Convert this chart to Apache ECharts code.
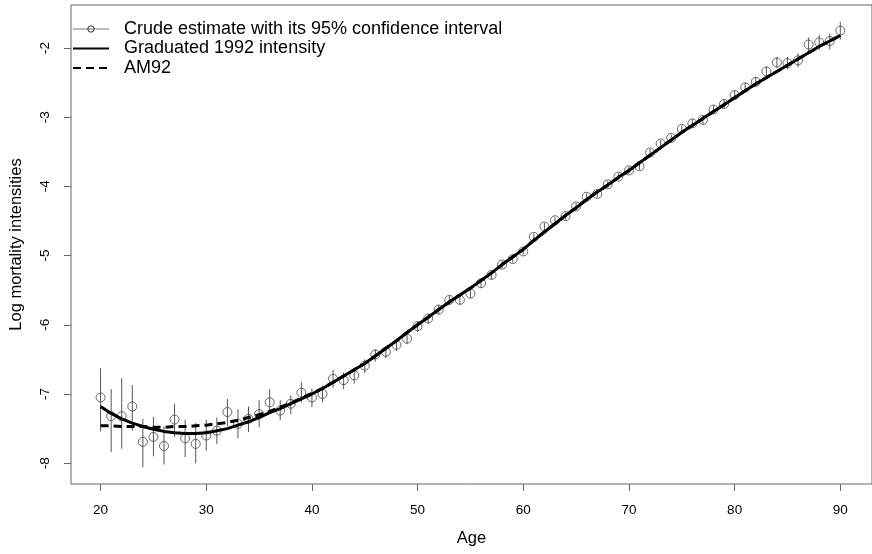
<!DOCTYPE html>
<html style="height: 100%">
<head>
<meta charset="utf-8">
</head>
<body style="height: 100%; margin: 0; background: #fff">
<div id="container" style="width: 872px; height: 554px"></div>
<script type="text/javascript" src="https://cdn.jsdelivr.net/npm/echarts@6/dist/echarts.min.js"></script>
<script type="text/javascript">
// ages 20..90
var ages = [20,21,22,23,24,25,26,27,28,29,30,31,32,33,34,35,36,37,38,39,40,
            41,42,43,44,45,46,47,48,49,50,51,52,53,54,55,56,57,58,59,60,
            61,62,63,64,65,66,67,68,69,70,71,72,73,74,75,76,77,78,79,80,
            81,82,83,84,85,86,87,88,89,90];
// crude log intensities
var crude = [-7.05,-7.32,-7.32,-7.18,-7.69,-7.62,-7.75,-7.37,-7.64,-7.72,-7.60,
             -7.53,-7.26,-7.43,-7.36,-7.29,-7.12,-7.24,-7.14,-6.98,-7.05,
             -7.00,-6.78,-6.80,-6.73,-6.59,-6.43,-6.39,-6.29,-6.20,-6.02,
             -5.91,-5.78,-5.64,-5.64,-5.55,-5.40,-5.28,-5.13,-5.05,-4.94,
             -4.73,-4.58,-4.49,-4.43,-4.29,-4.15,-4.11,-3.97,-3.86,-3.77,
             -3.71,-3.51,-3.38,-3.30,-3.17,-3.09,-3.04,-2.89,-2.81,-2.68,
             -2.57,-2.49,-2.34,-2.21,-2.22,-2.18,-1.95,-1.92,-1.90,-1.75];
// 95% confidence interval (log scale)
var lower = [-7.54,-7.84,-7.79,-7.53,-8.06,-7.90,-8.02,-7.62,-7.91,-8.00,-7.82,
             -7.72,-7.46,-7.64,-7.55,-7.48,-7.29,-7.38,-7.29,-7.12,-7.19,
             -7.12,-6.91,-6.93,-6.85,-6.70,-6.53,-6.48,-6.38,-6.28,-6.10,
             -5.98,-5.85,-5.71,-5.70,-5.61,-5.46,-5.34,-5.18,-5.10,-4.99,
             -4.78,-4.63,-4.54,-4.48,-4.34,-4.20,-4.16,-4.02,-3.91,-3.82,
             -3.76,-3.56,-3.43,-3.35,-3.22,-3.15,-3.10,-2.95,-2.87,-2.74,
             -2.64,-2.56,-2.41,-2.29,-2.31,-2.28,-2.06,-2.03,-2.02,-1.88];
var upper = [-6.63,-6.93,-6.77,-6.87,-7.36,-7.33,-7.47,-7.14,-7.37,-7.42,-7.37,
             -7.34,-7.07,-7.22,-7.18,-7.09,-6.93,-7.09,-7.02,-6.83,-6.92,
             -6.88,-6.65,-6.69,-6.63,-6.50,-6.35,-6.31,-6.21,-6.12,-5.95,
             -5.84,-5.71,-5.58,-5.58,-5.49,-5.34,-5.23,-5.08,-5.00,-4.89,
             -4.68,-4.53,-4.44,-4.38,-4.24,-4.10,-4.06,-3.92,-3.81,-3.72,
             -3.66,-3.46,-3.33,-3.25,-3.12,-3.03,-2.98,-2.83,-2.75,-2.62,
             -2.50,-2.42,-2.27,-2.13,-2.13,-2.08,-1.85,-1.81,-1.79,-1.62];
// graduated 1992 intensity
var graduated = [-7.18,-7.28,-7.36,-7.42,-7.47,-7.51,-7.54,-7.56,-7.57,-7.57,-7.56,
                 -7.53,-7.50,-7.45,-7.40,-7.34,-7.27,-7.21,-7.14,-7.07,-7.00,
                 -6.92,-6.83,-6.74,-6.65,-6.56,-6.45,-6.34,-6.23,-6.11,-6.00,
                 -5.89,-5.78,-5.67,-5.57,-5.47,-5.36,-5.25,-5.13,-5.02,-4.91,
                 -4.78,-4.66,-4.54,-4.42,-4.31,-4.19,-4.08,-3.98,-3.87,-3.77,
                 -3.66,-3.55,-3.44,-3.33,-3.22,-3.12,-3.02,-2.92,-2.82,-2.72,
                 -2.62,-2.52,-2.43,-2.34,-2.25,-2.16,-2.07,-1.98,-1.90,-1.82];
// AM92 table
var am92 = [-7.46,-7.46,-7.47,-7.47,-7.47,-7.48,-7.48,-7.47,-7.47,-7.46,-7.45,
            -7.43,-7.41,-7.38,-7.34,-7.30,-7.25,-7.19,-7.13,-7.06,-6.99,
            -6.92,-6.83,-6.74,-6.65,-6.56,-6.45,-6.34,-6.23,-6.11,-6.00,
            -5.89,-5.78,-5.67,-5.57,-5.47,-5.36,-5.25,-5.13,-5.02,-4.91,
            -4.78,-4.66,-4.54,-4.42,-4.31,-4.19,-4.08,-3.98,-3.87,-3.77,
            -3.66,-3.55,-3.44,-3.33,-3.22,-3.12,-3.02,-2.92,-2.82,-2.72,
            -2.62,-2.52,-2.43,-2.34,-2.25,-2.16,-2.07,-1.98,-1.90,-1.82];
var xTicks = [20, 30, 40, 50, 60, 70, 80, 90];
var yTicks = [-8, -7, -6, -5, -4, -3, -2];

var names = ['Crude estimate with its 95% confidence interval', 'Graduated 1992 intensity', 'AM92'];

function pairs(ys) {
    var res = [];
    for (var i = 0; i < ages.length; i++) res.push([ages[i], ys[i]]);
    return res;
}
var barData = [];
for (var i = 0; i < ages.length; i++) barData.push([ages[i], lower[i], upper[i]]);

var font = 'Liberation Sans, Arial, sans-serif';
var myChart = echarts.init(document.getElementById('container'));
var option = {
    backgroundColor: '#fff',
    animation: false,
    grid: {
        left: 71, right: -2, top: 5, bottom: 70,
        show: true, borderColor: '#666', borderWidth: 1
    },
    legend: {
        orient: 'vertical',
        left: 72, top: 20, padding: 0,
        itemWidth: 36, itemHeight: 8, itemGap: 1.5,
        selectedMode: false,
        textStyle: { fontFamily: font, fontSize: 18, lineHeight: 18, color: '#000', padding: [0, 0, 0, 10] },
        data: [
            { name: names[0], lineStyle: { color: '#777', width: 1, opacity: 1 }, itemStyle: { color: 'rgba(0,0,0,0)', borderColor: '#333', borderWidth: 1 } },
            { name: names[1], itemStyle: { opacity: 0 } },
            { name: names[2], itemStyle: { opacity: 0 } }
        ]
    },
    xAxis: {
        type: 'value', min: 17.2, max: 93.0,
        axisLine: { show: false },
        axisTick: { customValues: xTicks, length: 7, lineStyle: { color: '#666' } },
        axisLabel: { customValues: xTicks, margin: 19, fontFamily: font, fontSize: 13.5, color: '#000' },
        splitLine: { show: false },
        name: 'Age', nameLocation: 'middle', nameGap: 46,
        nameTextStyle: { fontFamily: font, fontSize: 16.5, color: '#000' }
    },
    yAxis: {
        type: 'value', min: -8.30, max: -1.38,
        axisLine: { show: false },
        axisTick: { customValues: yTicks, length: 7, lineStyle: { color: '#666' } },
        axisLabel: { customValues: yTicks, rotate: 90, margin: 19, fontFamily: font, fontSize: 13.5, color: '#000' },
        splitLine: { show: false },
        name: 'Log mortality intensities', nameLocation: 'middle', nameGap: 46,
        nameTextStyle: { fontFamily: font, fontSize: 16.5, color: '#000' }
    },
    series: [
        {
            name: names[0],
            type: 'line',
            data: pairs(crude),
            symbol: 'circle', symbolSize: 9,
            showAllSymbol: true,
            lineStyle: { opacity: 0 },
            itemStyle: { color: 'rgba(0,0,0,0)', borderColor: '#666', borderWidth: 1 },
            z: 2
        },
        {
            type: 'custom',
            data: barData,
            encode: { x: 0, y: [1, 2] },
            renderItem: function (params, api) {
                var p1 = api.coord([api.value(0), api.value(1)]);
                var p2 = api.coord([api.value(0), api.value(2)]);
                return {
                    type: 'line',
                    shape: { x1: p1[0], y1: p1[1], x2: p2[0], y2: p2[1] },
                    style: { stroke: '#555', lineWidth: 1 }
                };
            },
            z: 3
        },
        {
            name: names[1],
            type: 'line',
            data: pairs(graduated),
            showSymbol: false, symbol: 'none',
            lineStyle: { color: '#000', width: 3 },
            itemStyle: { color: '#000' },
            z: 4
        },
        {
            name: names[2],
            type: 'line',
            data: pairs(am92),
            showSymbol: false, symbol: 'none',
            lineStyle: { color: '#000', width: 3, type: [8, 5] },
            itemStyle: { color: '#000' },
            z: 5
        }
    ]
};
myChart.setOption(option);
</script>
</body>
</html>
